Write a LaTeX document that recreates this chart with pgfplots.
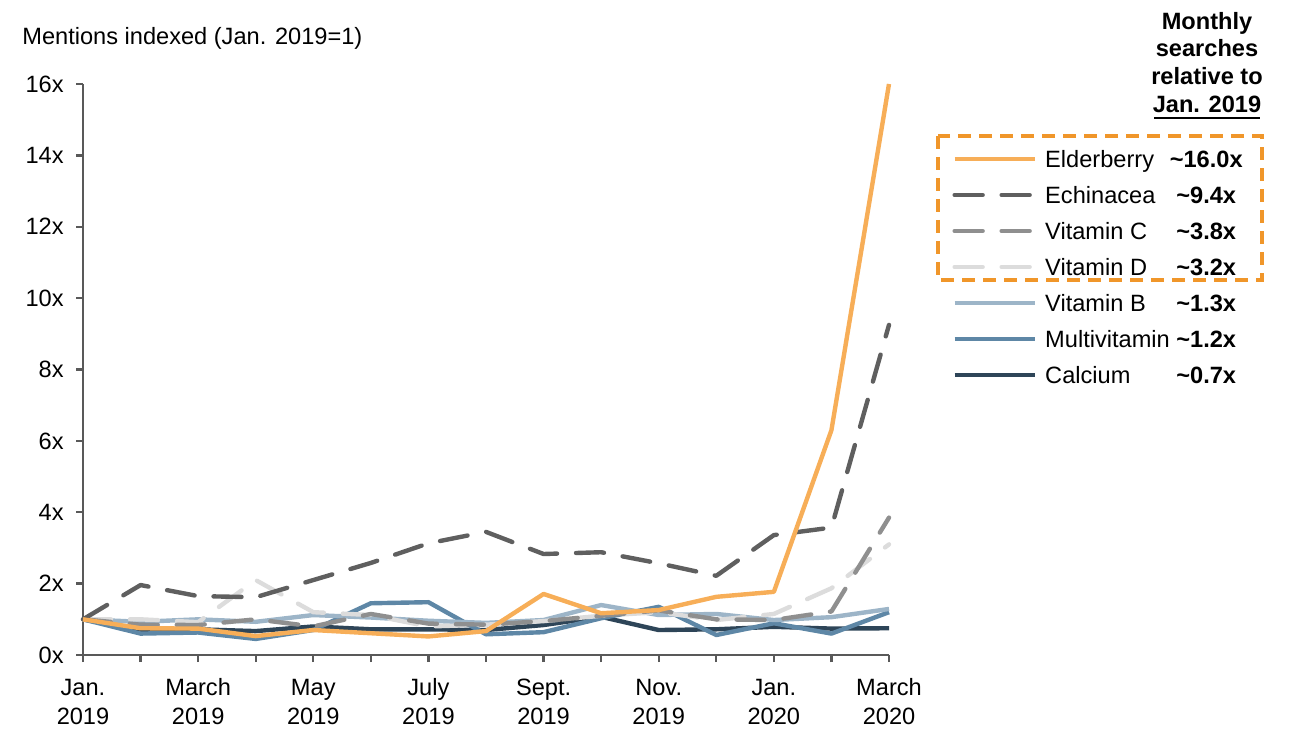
\documentclass[border=0pt]{standalone}
\usepackage{fontspec}
\setmainfont{Liberation Sans}
\usepackage{pgfplots}
\pgfplotsset{compat=1.18}

\definecolor{elder}{HTML}{F7AE58}
\definecolor{echin}{HTML}{5F5F5F}
\definecolor{vitc}{HTML}{8F8F8F}
\definecolor{vitd}{HTML}{DCDCDC}
\definecolor{vitb}{HTML}{9DB5C8}
\definecolor{multi}{HTML}{5E87A6}
\definecolor{calc}{HTML}{2E4558}
\definecolor{axisgray}{HTML}{595959}
\definecolor{boxorange}{HTML}{F0962A}

% name column + value column in the legend
\newcommand{\entry}[2]{\makebox[60.5pt][l]{#1}\makebox[40pt][c]{\bfseries\textasciitilde#2}}

\begin{document}
\begin{tikzpicture}[font=\fontsize{11.8}{14.5}\selectfont]
\path[use as bounding box] (-41.5pt,-45pt) rectangle (608.5pt,327.5pt);
\begin{axis}[
  at={(0pt,0pt)}, anchor=south west,
  scale only axis, width=403pt, height=285.5pt,
  xmin=0, xmax=14, ymin=0, ymax=16,
  clip=false,
  axis lines*=left,
  axis line style={draw=axisgray, line width=1.2pt},
  tick style={draw=axisgray, line width=1.2pt},
  tick align=outside, major tick length=3.5pt,
  xtick={0,...,14},
  xticklabels={\strut Jan.\\2019,,\strut March\\2019,,\strut May\\2019,,\strut July\\2019,,\strut Sept.\\2019,,\strut Nov.\\2019,,\strut Jan.\\2020,,\strut March\\2020},
  xticklabel style={align=center, inner sep=0pt, yshift=-6.5pt},
  ytick={0,2,...,16},
  yticklabels={0x,2x,4x,6x,8x,10x,12x,14x,16x},
  yticklabel style={inner sep=0pt, xshift=-6pt},
  legend style={at={(1.0782,0.8862)}, anchor=north west, draw=none, fill=none,
    inner sep=0pt, row sep=6pt,
    nodes={inner sep=0pt, text height=9pt, text depth=3pt, anchor=base west},
    /tikz/every odd column/.append style={column sep=4.2pt}},
  legend cell align=left,
  reverse legend,
  legend image code/.code={\draw[#1] (0pt,4.2pt) -- (40pt,4.2pt);},
  every axis plot/.append style={line width=2.2pt, line join=round},
  dashed line/.style={line cap=round, dash pattern=on 14pt off 9.5pt},
]
\addplot[calc] coordinates {(0,1.0) (1,0.70) (2,0.72) (3,0.67) (4,0.80) (5,0.72) (6,0.72) (7,0.70) (8,0.84) (9,1.07) (10,0.70) (11,0.72) (12,0.79) (13,0.74) (14,0.75)};
\addlegendentry{\entry{Calcium}{0.7x}}
\addplot[multi] coordinates {(0,1.0) (1,0.60) (2,0.63) (3,0.45) (4,0.70) (5,1.45) (6,1.48) (7,0.58) (8,0.64) (9,1.03) (10,1.35) (11,0.56) (12,0.89) (13,0.60) (14,1.20)};
\addlegendentry{\entry{Multivitamin}{1.2x}}
\addplot[vitb] coordinates {(0,1.0) (1,0.93) (2,1.00) (3,0.93) (4,1.12) (5,1.05) (6,0.96) (7,0.90) (8,0.98) (9,1.40) (10,1.12) (11,1.15) (12,0.98) (13,1.06) (14,1.29)};
\addlegendentry{\entry{Vitamin B}{1.3x}}
\addplot[vitd, dashed line] coordinates {(0,1.0) (1,1.00) (2,0.92) (3,2.10) (4,1.20) (5,1.12) (6,0.80) (7,0.85) (8,0.95) (9,1.10) (10,1.20) (11,0.98) (12,1.15) (13,1.87) (14,3.10)};
\addlegendentry{\entry{Vitamin D}{3.2x}}
\addplot[vitc, dashed line] coordinates {(0,1.0) (1,0.85) (2,0.84) (3,1.00) (4,0.80) (5,1.15) (6,0.88) (7,0.85) (8,0.95) (9,1.10) (10,1.25) (11,1.00) (12,0.98) (13,1.22) (14,3.85)};
\addlegendentry{\entry{Vitamin C}{3.8x}}
\addplot[echin, dashed line] coordinates {(0,1.0) (1,1.96) (2,1.65) (3,1.62) (4,2.10) (5,2.58) (6,3.13) (7,3.45) (8,2.83) (9,2.88) (10,2.57) (11,2.22) (12,3.36) (13,3.57) (14,9.25)};
\addlegendentry{\entry{Echinacea}{9.4x}}
\addplot[elder] coordinates {(0,1.0) (1,0.75) (2,0.74) (3,0.53) (4,0.70) (5,0.61) (6,0.52) (7,0.67) (8,1.71) (9,1.17) (10,1.26) (11,1.63) (12,1.77) (13,6.30) (14,16.0)};
\addlegendentry{\entry{Elderberry}{16.0x}}
\end{axis}
\node[anchor=base west, inner sep=0pt] at (-30.5pt,305pt) {Mentions indexed (Jan. 2019=1)};
\begin{scope}[font=\fontsize{11.8}{14.5}\selectfont\bfseries, inner sep=0pt]
\node[anchor=base] at (562pt,312.5pt) {Monthly};
\node[anchor=base] at (562pt,299pt) {searches};
\node[anchor=base] at (562pt,285pt) {relative to};
\node[anchor=base] at (562pt,271pt) {Jan. 2019};
\end{scope}
\draw[line width=1pt] (535.5pt,268.5pt) -- (588.5pt,268.5pt);
\draw[boxorange, line width=2pt, dash pattern=on 6.5pt off 4pt] (427.5pt,259.5pt) rectangle (589.5pt,187.5pt);
\end{tikzpicture}
\end{document}
